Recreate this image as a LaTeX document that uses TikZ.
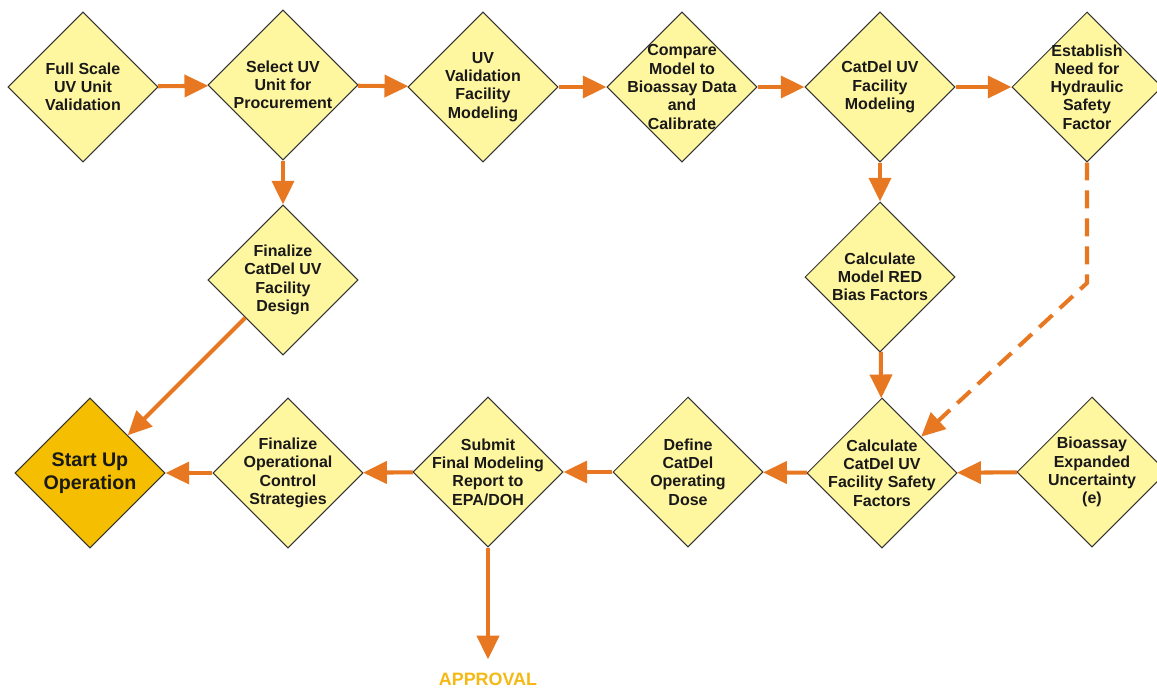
\documentclass[tikz,border=0pt]{standalone}
\usepackage{fontspec}
\setmainfont{Liberation Sans}
\usepackage{tikz}
\usetikzlibrary{shapes.geometric,arrows.meta}

\definecolor{boxyellow}{RGB}{255,246,160}
\definecolor{startgold}{RGB}{246,190,0}
\definecolor{flowarrow}{RGB}{232,119,34}
\definecolor{approvalgold}{RGB}{245,185,20}

\begin{document}
\begin{tikzpicture}[x=0.02cm,y=-0.02cm,
	stepbox/.style={diamond,draw=black!80,line width=0.6pt,fill=boxyellow,
		minimum width=3cm,minimum height=3cm,inner sep=-1cm,align=center,
		text=black!90,font=\bfseries\fontsize{9.1}{10.4}\selectfont},
	flow/.style={draw=flowarrow,line width=2.3pt,
		-{Triangle[length=13.5pt,width=12.5pt,fill=flowarrow]}}]
	\useasboundingbox (0,0) rectangle (1157,687);

	\node[stepbox] (full) at (83,87) {Full Scale\\UV Unit\\Validation};
	\node[stepbox] (select) at (283,85) {Select UV\\Unit for\\Procurement};
	\node[stepbox] (model) at (483,87) {UV\\Validation\\Facility\\Modeling};
	\node[stepbox] (compare) at (682,87) {Compare\\Model to\\Bioassay Data\\and\\Calibrate};
	\node[stepbox] (catdel) at (880,87) {CatDel UV\\Facility\\Modeling};
	\node[stepbox] (need) at (1087,87) {Establish\\Need for\\Hydraulic\\Safety\\Factor};

	\node[stepbox] (design) at (283,280) {Finalize\\CatDel UV\\Facility\\Design};
	\node[stepbox] (bias) at (880,277) {Calculate\\Model RED\\Bias Factors};

	\node[stepbox,fill=startgold,font=\bfseries\fontsize{11.2}{13.1}\selectfont] (start) at (90,473) {Start Up\\Operation};
	\node[stepbox] (control) at (288,473) {Finalize\\Operational\\Control\\Strategies};
	\node[stepbox] (report) at (488,472) {Submit\\Final Modeling\\Report to\\EPA/DOH};
	\node[stepbox] (dose) at (688,472) {Define\\CatDel\\Operating\\Dose};
	\node[stepbox] (safety) at (882,473) {Calculate\\CatDel UV\\Facility Safety\\Factors};
	\node[stepbox] (bioassay) at (1092,472) {Bioassay\\Expanded\\Uncertainty\\(e)};

	\node[text=approvalgold,font=\bfseries\fontsize{10.2}{12}\selectfont] (approval) at (488,679) {APPROVAL};
	\coordinate (bend) at (1087,283);

	\draw[flow] (full) -- (select);
	\draw[flow] (select) -- (model);
	\draw[flow] (model) -- (compare);
	\draw[flow] (compare) -- (catdel);
	\draw[flow] (catdel) -- (need);
	\draw[flow] (select) -- (design);
	\draw[flow] (catdel) -- (bias);
	\draw[flow] (bias) -- (safety);
	\draw[flow,dash pattern=on 10.2pt off 5.7pt] (need) -- (bend) -- (safety);
	\draw[flow] (design) -- (start);
	\draw[flow] (bioassay) -- (safety);
	\draw[flow] (safety) -- (dose);
	\draw[flow] (dose) -- (report);
	\draw[flow] (report) -- (control);
	\draw[flow] (control) -- (start);
	\draw[flow,shorten >=4pt] (report) -- (approval);
\end{tikzpicture}
\end{document}
